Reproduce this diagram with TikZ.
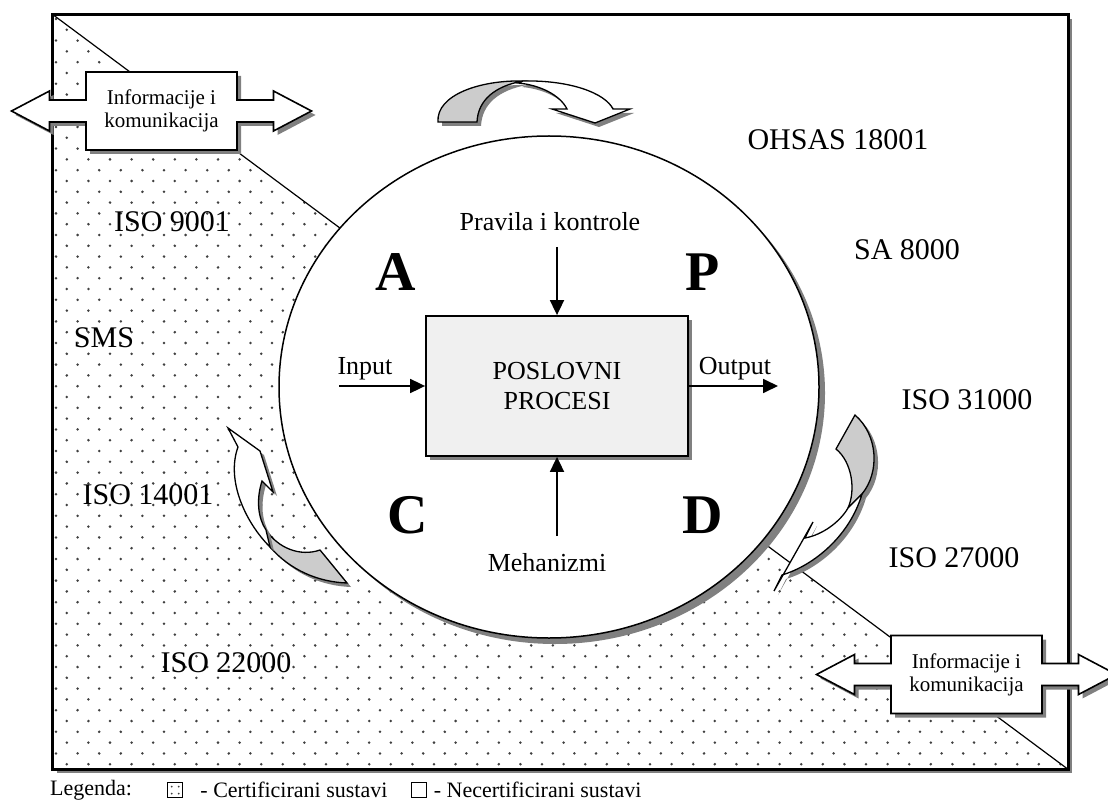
\documentclass[tikz,border=0pt]{standalone}
\usepackage{fontspec}
\setmainfont{Liberation Serif}
\usepackage{xcolor}
\definecolor{dotgray}{HTML}{404040}
\definecolor{ribbongray}{HTML}{CCCCCC}
\definecolor{procgray}{HTML}{F0F0F0}
\definecolor{shadowgray}{HTML}{808080}
\usetikzlibrary{arrows.meta, positioning, shapes.geometric, shadows}

\tikzset{
  shdw/.style={drop shadow={shadow xshift=4pt, shadow yshift=-4pt,
    fill=shadowgray, opacity=1}},
  lbl/.style={font=\fontsize{26}{30}\selectfont, inner sep=1pt},
  iso/.style={font=\fontsize{30}{34}\selectfont, inner sep=1pt},
  pdcaletter/.style={font=\fontsize{56}{60}\selectfont\bfseries, inner sep=0pt},
  info/.style={font=\fontsize{21}{23}\selectfont, align=center, inner sep=0pt},
  legend/.style={font=\fontsize{22}{24}\selectfont, inner sep=1pt},
  legsq/.style={draw, line width=1pt, minimum size=15pt, inner sep=0pt},
  flow/.style={-{Triangle[length=15pt, width=14pt]}, line width=1.8pt},
  ribbonback/.style={draw, line width=1.3pt, fill=ribbongray, shdw},
  ribbonfront/.style={draw, line width=1.3pt, fill=white, shdw},
  infoarrow/.pic={
    \filldraw[line width=1.6pt, fill=white, shdw]
      (-150,0) -- (-112,-20) -- (-112,-11) -- (-75.5,-11) -- (-75.5,-39)
      -- (75.5,-39) -- (75.5,-11) -- (112,-11) -- (112,-20) -- (150,0)
      -- (112,20) -- (112,11) -- (75.5,11) -- (75.5,39) -- (-75.5,39)
      -- (-75.5,11) -- (-112,11) -- (-112,20) -- cycle;
    \node[info] (-txt) {Informacije i\\komunikacija};
  }
}

\begin{document}
\begin{tikzpicture}[x=1pt, y=-1pt]
\clip (0,0) rectangle (1108,810);

% okvir i certificirani dio
\node[draw, line width=2pt, fill=white, shdw, minimum width=1015pt,
  minimum height=754pt, inner sep=0pt] (frame) at (560.5,392) {};
\begin{scope}
  \clip (frame.north west) -- (frame.south east) -- (frame.south west) -- cycle;
  \foreach \j in {0,...,70}{
    \pgfmathsetmacro{\off}{mod(\j,2)*10.8}
    \foreach \i in {0,...,47}
      \fill[dotgray] (56+\off+\i*21.6, 19+\j*10.8) circle (1.4pt);
  }
\end{scope}
\draw[line width=1.2pt] (frame.north west) -- (frame.south east);
\draw[line width=2pt] (frame.north west) rectangle (frame.south east);

% PDCA krug
\node[draw, ellipse, line width=1.5pt, fill=white,
  drop shadow={shadow xshift=6pt, shadow yshift=-6pt, fill=shadowgray, opacity=1},
  minimum width=540pt, minimum height=502pt, inner sep=0pt] (pdca) at (549,387) {};

\node[draw, line width=1.8pt, fill=procgray, shdw, minimum width=262pt,
  minimum height=140pt, align=center, font=\fontsize{26}{30}\selectfont]
  (proc) at (557,386) {POSLOVNI\\PROCESI};

\node[lbl] (ctl)  at (550,222) {Pravila i kontrole};
\node[lbl] (mech) at (547,563) {Mehanizmi};
\node[lbl] (in)   at (365,369) {Input};
\node[lbl] (out)  at (735,369) {Output};

\coordinate (ctlS)  at (557,247);
\coordinate (mechS) at (557,536);
\coordinate (inS)   at (339,386);
\coordinate (outE)  at (778,386);
\draw[flow] (ctlS)  -- (proc);
\draw[flow] (mechS) -- (proc);
\draw[flow] (inS)   -- (proc);
\draw[flow] (proc)  -- (outE);

\node[pdcaletter] (A) at (396,272) {A};
\node[pdcaletter] (P) at (703,272) {P};
\node[pdcaletter] (C) at (408,515) {C};
\node[pdcaletter] (D) at (703,515) {D};

% zakrivljene strelice
\draw[ribbonback] (438,122) .. controls (436,95) and (480,80) .. (523,81)
  .. controls (495,86) and (478,100) .. (477,122) -- cycle;
\draw[ribbonfront] (523,81) .. controls (570,80) and (605,93) .. (613,109)
  -- (630,109) -- (595,123) -- (552,109) -- (567,109)
  .. controls (560,95) and (540,85) .. (518,83) -- cycle;

\draw[ribbonback] (855,415) .. controls (878,435) and (880,472) .. (862,494)
  -- (848,508) .. controls (856,490) and (852,462) .. (836,449) -- cycle;
\draw[ribbonfront] (862,494) .. controls (850,535) and (815,565) .. (782,575)
  -- (774,591) -- (813,522) -- (805,538)
  .. controls (822,535) and (840,522) .. (848,508) -- cycle;

\draw[ribbonback] (347,583) -- (320,550) .. controls (300,557) and (278,548) .. (266,530)
  -- (270,547) .. controls (290,570) and (318,582) .. (347,583) -- cycle;
\draw[ribbonfront] (228,428) -- (260,451) -- (273,492) -- (262,481)
  .. controls (256,500) and (258,518) .. (266,530) -- (270,547)
  .. controls (245,522) and (226,480) .. (238,447) -- cycle;

% informacije i komunikacija
\pic (infoL) at (161.5,111) {infoarrow};
\pic (infoR) at (966.5,674.5) {infoarrow};

% sustavi
\node[iso] (ohsas) at (838,140) {OHSAS 18001};
\node[iso] (sa)    at (907,250) {SA 8000};
\node[iso] (iso31) at (967,400) {ISO 31000};
\node[iso] (iso27) at (954,558) {ISO 27000};
\node[iso] (iso9)  at (172,222) {ISO 9001};
\node[iso] (sms)   at (104,338) {SMS};
\node[iso] (iso14) at (148,495) {ISO 14001};
\node[iso] (iso22) at (226,663) {ISO 22000};

% legenda
\node[legend, anchor=west] (leg) at (49,790) {Legenda:};
\node[legsq, right=34pt of leg, path picture={
    \fill[dotgray] ([shift={(-3.5,-3.5)}]path picture bounding box.center) circle (1pt);
    \fill[dotgray] ([shift={(3.5,-3.5)}]path picture bounding box.center) circle (1pt);
    \fill[dotgray] ([shift={(-3.5,3.5)}]path picture bounding box.center) circle (1pt);
    \fill[dotgray] ([shift={(3.5,3.5)}]path picture bounding box.center) circle (1pt);
  }] (legcert) {};
\node[legend, right=16pt of legcert] (legcerttxt) {- Certificirani sustavi};
\node[legsq, right=22pt of legcerttxt] (legnon) {};
\node[legend, right=6pt of legnon] (legnontxt) {- Necertificirani sustavi};
\end{tikzpicture}
\end{document}
